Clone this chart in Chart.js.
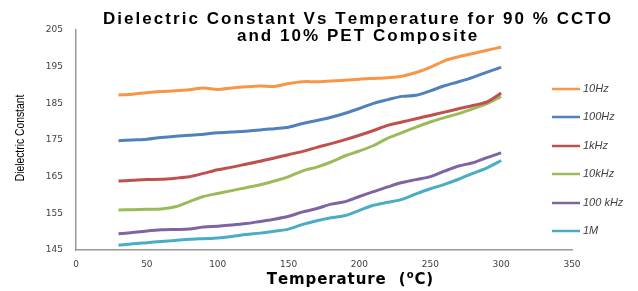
<!DOCTYPE html>
<html><head><meta charset="utf-8">
<script src="https://cdn.jsdelivr.net/npm/chart.js@4/dist/chart.umd.min.js"></script>
<style>html,body{margin:0;padding:0;background:#fff}</style>
</head><body>
<canvas id="c" width="638" height="291"></canvas>
<script>
const temperatures = [30,40,50,60,70,80,90,100,110,120,130,140,150,160,170,180,190,200,210,220,230,240,250,260,270,280,290,300];
const s10Hz   = [187.3,187.5,187.9,188.2,188.4,188.7,189.2,188.8,189.2,189.5,189.7,189.6,190.4,190.9,190.9,191.1,191.3,191.6,191.8,192.0,192.4,193.4,194.8,196.6,197.7,198.6,199.5,200.3];
const s100Hz  = [174.8,175.0,175.2,175.7,176.0,176.3,176.6,177.0,177.2,177.4,177.7,178.1,178.5,179.5,180.3,181.2,182.3,183.6,185.0,186.0,186.9,187.2,188.4,189.8,190.9,192.1,193.5,194.8];
const s1kHz   = [163.8,164.0,164.2,164.3,164.6,165.0,165.9,166.9,167.6,168.4,169.2,170.1,171.0,171.9,173.0,174.0,175.1,176.3,177.6,179.0,179.9,180.8,181.7,182.6,183.5,184.4,185.4,187.8];
const s10kHz  = [155.9,156.0,156.1,156.2,156.8,158.2,159.6,160.4,161.2,162.0,162.8,163.8,165.0,166.6,167.6,169.0,170.7,172.0,173.5,175.5,177.0,178.5,179.9,181.1,182.2,183.5,184.9,186.9];
const s100kHz = [149.4,149.8,150.2,150.5,150.6,150.7,151.3,151.5,151.8,152.2,152.8,153.4,154.2,155.4,156.3,157.5,158.2,159.6,160.9,162.2,163.4,164.2,165.0,166.5,167.9,168.8,170.2,171.5];
const s1M     = [146.3,146.7,147.0,147.3,147.6,147.9,148.1,148.3,148.7,149.2,149.6,150.1,150.7,152.0,153.0,153.8,154.4,155.8,157.2,158.0,158.8,160.3,161.7,162.9,164.3,165.9,167.4,169.4];
const seriesLabels = ['10Hz','100Hz','1kHz','10kHz','100 kHz','1M'];
const xTicks = [0,50,100,150,200,250,300,350];
const yTicks = [145,155,165,175,185,195,205];
const titleLines = ['Dielectric Constant Vs Temperature for 90 % CCTO','and 10% PET Composite'];
const yTitle = 'Dielectric Constant';

const colors = ['#F79646','#4F81BD','#C0504D','#9BBB59','#8064A2','#4BACC6'];
const allSeries = [s10Hz,s100Hz,s1kHz,s10kHz,s100kHz,s1M];

const datasets = allSeries.map((arr,i)=>({
  label: seriesLabels[i],
  data: arr.map((v,j)=>({x:temperatures[j], y:v})),
  borderColor: colors[i],
  backgroundColor: colors[i],
  borderWidth: 3,
  pointRadius: 0,
  tension: 0.3,
  fill: false
}));

function spacedWidth(ctx, s, sp){ let w=0; for(const ch of s) w += ctx.measureText(ch).width + sp; return w - sp; }
function drawSpaced(ctx, s, cx, y, sp){
  let x = cx - spacedWidth(ctx, s, sp)/2;
  ctx.textAlign='left';
  for(const ch of s){ ctx.fillText(ch, x, y); x += ctx.measureText(ch).width + sp; }
}

const textPlugin = {
  id:'texts',
  afterDraw(chart){
    const ctx = chart.ctx;
    ctx.save();
    ctx.fillStyle = '#000';
    ctx.textBaseline = 'middle';
    ctx.font = 'bold 17px "Liberation Sans", Arial, sans-serif';
    const base = spacedWidth(ctx, titleLines[0], 0);
    const sp = (508 - base) / (titleLines[0].length - 1);
    drawSpaced(ctx, titleLines[0], 357, 19, sp);
    drawSpaced(ctx, titleLines[1], 357, 36, sp);
    // y title
    ctx.save();
    ctx.translate(21, 138);
    ctx.rotate(-Math.PI/2);
    ctx.scale(0.86, 1);
    ctx.textAlign = 'center';
    ctx.font = '12px "Liberation Sans", sans-serif';
    ctx.fillText(yTitle, 0, 0);
    ctx.restore();
    // x title
    const xsp = 0.9;
    ctx.font = 'bold 15px "DejaVu Sans", sans-serif';
    const p1 = 'Temperature  (', p3 = 'C)';
    ctx.textAlign = 'left';
    const w1 = spacedWidth(ctx,p1,xsp)+xsp, w3 = spacedWidth(ctx,p3,xsp);
    ctx.font = 'bold 10px "DejaVu Sans", sans-serif';
    const w2 = ctx.measureText('o').width + xsp;
    const total = w1+w2+w3;
    let x = 350 - total/2;
    ctx.font = 'bold 15px "DejaVu Sans", sans-serif';
    for(const ch of p1){ ctx.fillText(ch, x, 280); x += ctx.measureText(ch).width + xsp; }
    ctx.font = 'bold 10px "DejaVu Sans", sans-serif';
    ctx.fillText('o', x, 275); x += w2;
    ctx.font = 'bold 15px "DejaVu Sans", sans-serif';
    for(const ch of p3){ ctx.fillText(ch, x, 280); x += ctx.measureText(ch).width + xsp; }
    // legend
    const ly = [89,117,146,174,203,231];
    ctx.font = 'italic 11px "Liberation Sans", Arial, sans-serif';
    ctx.fillStyle = '#404040';
    chart.data.datasets.forEach((d,i)=>{
      ctx.strokeStyle = d.borderColor;
      ctx.lineWidth = 2.5;
      ctx.beginPath();
      ctx.moveTo(552, ly[i]);
      ctx.lineTo(580, ly[i]);
      ctx.stroke();
      ctx.fillText(d.label, 583, ly[i]);
    });
    ctx.restore();
  }
};

new Chart(document.getElementById('c'), {
  type:'line',
  data:{datasets},
  options:{
    responsive:false,
    animation:false,
    layout:{padding:{top:30,right:66,left:0,bottom:0}},
    plugins:{legend:{display:false},title:{display:false},tooltip:{enabled:false}},
    scales:{
      x:{type:'linear',min:0,max:350,
        afterBuildTicks(s){s.ticks = xTicks.map(v=>({value:v}));},
        afterFit(s){s.height = 41;},
        grid:{display:false,drawTicks:false},
        border:{color:'#999',width:1.5},
        ticks:{padding:9,font:{size:9,family:'"DejaVu Sans", sans-serif'},color:'#404040'}
      },
      y:{min:145,max:205,
        afterBuildTicks(s){s.ticks = yTicks.map(v=>({value:v}));},
        afterFit(s){s.width = 76;},
        grid:{display:false,drawTicks:false},
        border:{color:'#999',width:1.5},
        ticks:{padding:13,font:{size:9,family:'"DejaVu Sans", sans-serif'},color:'#404040'}
      }
    }
  },
  plugins:[textPlugin]
});
</script>
</body></html>
